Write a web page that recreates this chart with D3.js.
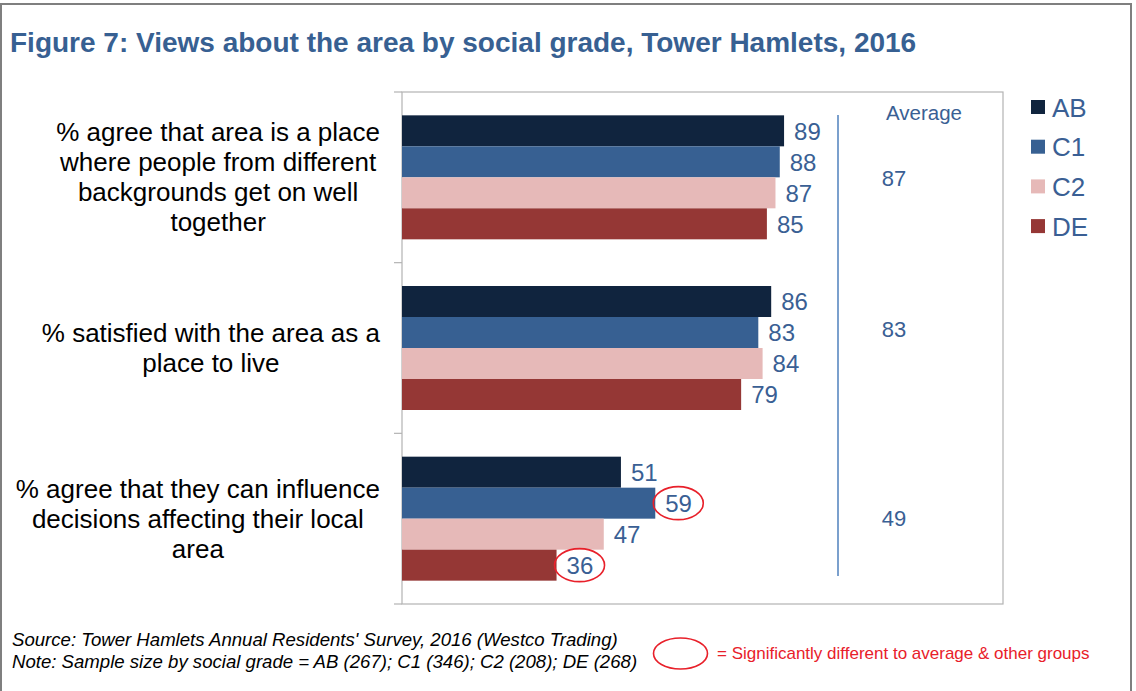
<!DOCTYPE html>
<html>
<head>
<meta charset="utf-8">
<script src="https://cdn.jsdelivr.net/npm/d3@7"></script>
<style>
  html, body { margin: 0; padding: 0; background: #fff; }
  svg { display: block; font-family: Arial, "Liberation Sans", sans-serif; }
</style>
</head>
<body>
<svg id="chart" width="1136" height="691"></svg>
<script>
// Survey questions (category axis, top to bottom)
const categories = [
  ["% agree that area is a place", "where people from different", "backgrounds get on well", "together"],
  ["% satisfied with the area as a", "place to live"],
  ["% agree that they can influence", "decisions affecting their local", "area"]
];
// Social grades
const grades = ["AB", "C1", "C2", "DE"];
const gradeColors = ["#10243E", "#376092", "#E6B9B8", "#953735"];
// Percentages by grade for each question
const valuesAB = [89, 86, 51];
const valuesC1 = [88, 83, 59];
const valuesC2 = [87, 84, 47];
const valuesDE = [85, 79, 36];
// Overall average per question
const averages = [87, 83, 49];
// Results significantly different to average & other groups
const significant = [{cat: 2, grade: "C1"}, {cat: 2, grade: "DE"}];

const seriesValues = {AB: valuesAB, C1: valuesC1, C2: valuesC2, DE: valuesDE};
const textBlue = "#3A5F94";
const axisGrey = "#B3B3B3";

const svg = d3.select("#chart");

// Outer frame
svg.append("rect")
  .attr("x", 1).attr("y", 4).attr("width", 1130).attr("height", 720)
  .attr("fill", "none").attr("stroke", "#7F7F7F").attr("stroke-width", 2);

// Title
svg.append("text")
  .attr("x", 10).attr("y", 52)
  .attr("fill", "#376092")
  .attr("font-weight", "bold")
  .attr("font-size", 28)
  .text("Figure 7: Views about the area by social grade, Tower Hamlets, 2016");

const plot = {left: 402, right: 1003, top: 92, bottom: 604};

const x = d3.scaleLinear().domain([0, 140]).range([plot.left, plot.right]);
const y = d3.scaleBand().domain(d3.range(categories.length)).range([plot.top, plot.bottom]);
const yInner = d3.scaleBand().domain(grades).range([0, y.bandwidth()])
  .paddingInner(0).paddingOuter(0.753);

// Plot area border
svg.append("rect")
  .attr("x", plot.left).attr("y", plot.top)
  .attr("width", plot.right - plot.left).attr("height", plot.bottom - plot.top)
  .attr("fill", "none").attr("stroke", axisGrey).attr("stroke-width", 1.2);

// Category axis with tick marks at band boundaries
const boundaries = d3.range(categories.length + 1).map(i =>
  i < categories.length ? y(i) : plot.bottom);
svg.append("g").selectAll("line").data(boundaries).join("line")
  .attr("x1", plot.left - 8).attr("x2", plot.left)
  .attr("y1", d => d).attr("y2", d => d)
  .attr("stroke", axisGrey).attr("stroke-width", 1.2);

// Bars
const groups = svg.append("g").selectAll("g").data(categories).join("g")
  .attr("transform", (d, i) => `translate(0,${y(i)})`);

groups.each(function(cat, ci) {
  const g = d3.select(this);
  const rows = grades.map((gr, gi) => ({grade: gr, value: seriesValues[gr][ci], color: gradeColors[gi]}));
  g.selectAll("rect").data(rows).join("rect")
    .attr("x", x(0))
    .attr("y", d => yInner(d.grade))
    .attr("width", d => x(d.value) - x(0))
    .attr("height", yInner.bandwidth())
    .attr("fill", d => d.color);
  g.selectAll("text.val").data(rows).join("text")
    .attr("class", "val")
    .attr("x", d => x(d.value) + 10)
    .attr("y", d => yInner(d.grade) + yInner.bandwidth() / 2 + 9)
    .attr("fill", textBlue)
    .attr("font-size", 24)
    .text(d => d.value);
});

// Circles marking significant differences
significant.forEach(s => {
  const v = seriesValues[s.grade][s.cat];
  const cx = x(v) + 23;
  const cy = y(s.cat) + yInner(s.grade) + yInner.bandwidth() / 2;
  svg.append("ellipse")
    .attr("cx", cx).attr("cy", cy).attr("rx", 25).attr("ry", 16.5)
    .attr("fill", "none").attr("stroke", "#E8202A").attr("stroke-width", 1.6);
});

// Category labels, each block centred on its widest line, right edge near the axis
categories.forEach((lines, ci) => {
  const lh = 30;
  const cy = y(ci) + y.bandwidth() / 2;
  const t = svg.append("text")
    .attr("font-size", 26).attr("fill", "#000").attr("text-anchor", "middle");
  lines.forEach((ln, li) => {
    t.append("tspan").attr("y", cy + (li - (lines.length - 1) / 2) * lh + 9).text(ln);
  });
  let maxW = 0;
  t.selectAll("tspan").each(function() { maxW = Math.max(maxW, this.getComputedTextLength()); });
  t.selectAll("tspan").attr("x", 380 - maxW / 2);
});

// Average column
svg.append("line")
  .attr("x1", 838).attr("x2", 838).attr("y1", 115).attr("y2", 576)
  .attr("stroke", "#4F81BD").attr("stroke-width", 1.5);
svg.append("text")
  .attr("x", 924).attr("y", 120).attr("text-anchor", "middle")
  .attr("font-size", 20.5).attr("fill", textBlue).text("Average");
const avgY = [186, 337, 526];
svg.append("g").selectAll("text").data(averages).join("text")
  .attr("x", 894).attr("y", (d, i) => avgY[i]).attr("text-anchor", "middle")
  .attr("font-size", 22).attr("fill", textBlue).text(d => d);

// Legend
const legend = svg.append("g").selectAll("g").data(grades).join("g")
  .attr("transform", (d, i) => `translate(1031,${107 + i * 39.7})`);
legend.append("rect")
  .attr("x", 0).attr("y", -7).attr("width", 14).attr("height", 14)
  .attr("fill", (d, i) => gradeColors[i]);
legend.append("text")
  .attr("x", 21).attr("y", 9.5).attr("font-size", 26).attr("fill", textBlue)
  .text(d => d);

// Source and notes
svg.append("text")
  .attr("x", 12).attr("y", 646).attr("font-size", 18.6).attr("font-style", "italic")
  .attr("fill", "#000")
  .text("Source: Tower Hamlets Annual Residents' Survey, 2016 (Westco Trading)");
svg.append("text")
  .attr("x", 12).attr("y", 668).attr("font-size", 18.6).attr("font-style", "italic")
  .attr("fill", "#000")
  .text("Note: Sample size by social grade = AB (267); C1 (346); C2 (208); DE (268)");

// Key for the significance circles
svg.append("ellipse")
  .attr("cx", 680.5).attr("cy", 653.5).attr("rx", 27).attr("ry", 15.5)
  .attr("fill", "none").attr("stroke", "#E8202A").attr("stroke-width", 1.6);
svg.append("text")
  .attr("x", 717).attr("y", 659).attr("font-size", 17).attr("fill", "#E8202A")
  .text("= Significantly different to average & other groups");
</script>
</body>
</html>
